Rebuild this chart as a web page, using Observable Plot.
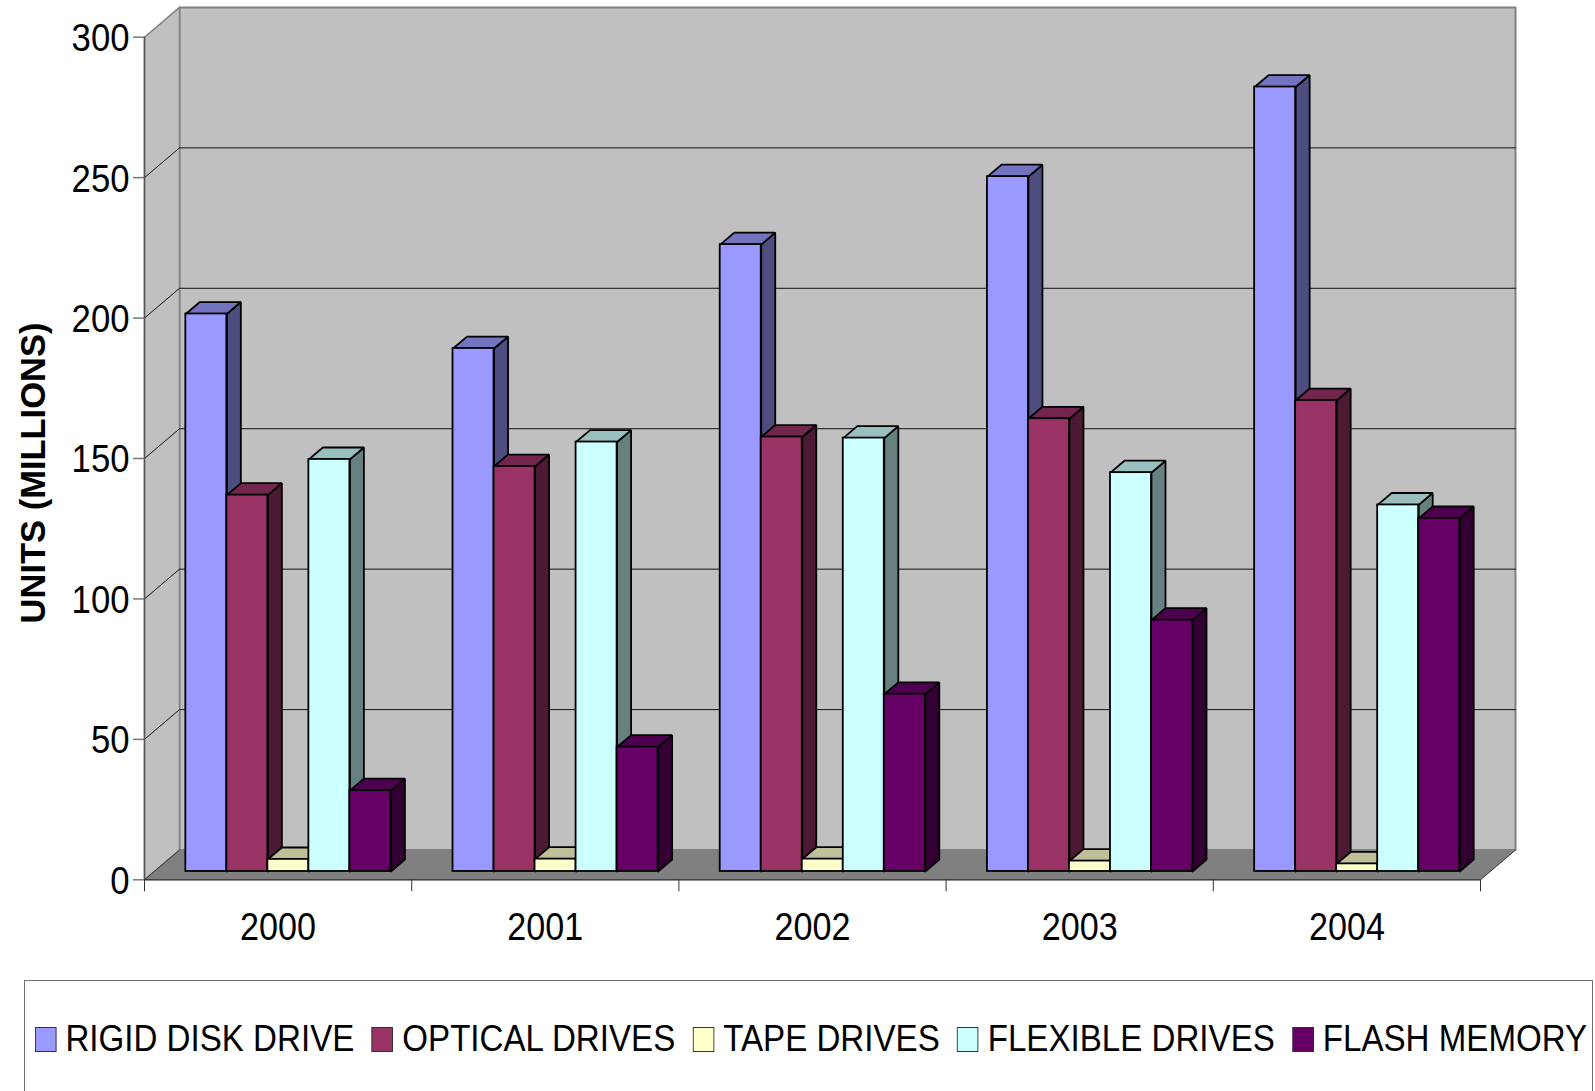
<!DOCTYPE html>
<html>
<head>
<meta charset="utf-8">
<script src="https://cdn.jsdelivr.net/npm/d3@7"></script>
<script src="https://cdn.jsdelivr.net/npm/@observablehq/plot@0.6"></script>
<style>
  html, body { margin: 0; padding: 0; background: #fff; overflow: hidden; }
  body { font-family: "Liberation Sans", Arial, sans-serif; color: #000; }
  svg { display: block; }
  #legend {
    box-sizing: border-box; margin-left: 24px; width: 1569px; height: 111px;
    border: 1.5px solid #707070; border-bottom: none; position: relative;
  }
  #legend .row {
    position: absolute; left: 10px; top: 33px; display: flex; align-items: center;
    font-size: 37px; line-height: 50px; white-space: nowrap;
    transform: scaleX(0.895); transform-origin: left center;
  }
  #legend .swatch {
    width: 22px; height: 23px; border: 1.5px solid #333; margin-right: 10px; flex: none;
  }
  #legend .item { display: flex; align-items: center; margin-right: 19.6px; }
</style>
</head>
<body>
<div id="chart"></div>
<div id="legend"><div class="row"></div></div>
<script>
// Unit shipments per year, in millions
const years = ["2000", "2001", "2002", "2003", "2004"];
const seriesNames = ["RIGID DISK DRIVE", "OPTICAL DRIVES", "TAPE DRIVES", "FLEXIBLE DRIVES", "FLASH MEMORY"];
const seriesColors = ["#9999FF", "#993366", "#FFFFCC", "#CCFFFF", "#660066"];
const rigidDisk = [198.5, 186.2, 223.2, 247.4, 279.3];
const optical = [134, 144.2, 154.7, 161.2, 167.7];
const tape = [4.3, 4.4, 4.4, 3.7, 2.7];
const flexible = [146.7, 152.9, 154.3, 142, 130.5];
const flash = [28.8, 44.3, 63.1, 89.5, 125.7];
const seriesValues = [rigidDisk, optical, tape, flexible, flash];
const yTicks = [0, 50, 100, 150, 200, 250, 300];

// Oblique projection: depth 1 is the back wall, expressed in data units of x and y
const depthX = 0.131;
const depthY = 10.6;
const project = (x, y, depth) => ({x: x + depth * depthX, y: y + depth * depthY});
const polygon = (corners) => corners.map(([x, y, depth]) => project(x, y, depth));

const shade = (hex, f) => {
  const c = d3.rgb(hex);
  return d3.rgb(c.r * f, c.g * f, c.b * f).formatHex();
};

const barFrontDepth = 0.28;
const barBackDepth = 0.68;
const barWidth = 0.1535;
const groupInset = 0.118;

const wall = "#C0C0C0";
const floor = "#808080";
const edge = "#808080";
const top3d = yTicks[yTicks.length - 1];

// Walls and floor
const walls = [
  Plot.line(polygon([[0, 0, 1], [5, 0, 1], [5, top3d, 1], [0, top3d, 1], [0, 0, 1]]), {x: "x", y: "y", fill: wall, stroke: edge, strokeWidth: 2}),
  Plot.line(polygon([[0, 0, 0], [0, top3d, 0], [0, top3d, 1], [0, 0, 1], [0, 0, 0]]), {x: "x", y: "y", fill: wall, stroke: edge, strokeWidth: 1.5}),
  Plot.line(polygon([[0, 0, 0], [5, 0, 0], [5, 0, 1], [0, 0, 1], [0, 0, 0]]), {x: "x", y: "y", fill: floor, stroke: "none"})
];

// Gridlines run along the left wall and across the back wall
const grid = yTicks.filter((t) => t > 0 && t < top3d).map((t) =>
  Plot.line(polygon([[0, t, 0], [0, t, 1], [5, t, 1]]), {x: "x", y: "y", stroke: "#111", strokeWidth: 1})
);
const floorEdges = [
  Plot.line(polygon([[0, 0, 0], [0, 0, 1]]), {x: "x", y: "y", stroke: "#333", strokeWidth: 1}),
  Plot.line(polygon([[5, 0, 0], [5, 0, 1]]), {x: "x", y: "y", stroke: "#333", strokeWidth: 1})
];

// Bars are painted left to right so each one overlaps the side of its neighbour
const barMarks = [];
years.forEach((year, i) => {
  seriesValues.forEach((values, s) => {
    const v = values[i];
    const x1 = i + groupInset + s * barWidth;
    const x2 = x1 + barWidth;
    const color = seriesColors[s];
    const outline = {x: "x", y: "y", stroke: "#000", strokeWidth: 1.8, strokeLinejoin: "miter"};
    barMarks.push(
      Plot.line(polygon([[x2, 0, barFrontDepth], [x2, 0, barBackDepth], [x2, v, barBackDepth], [x2, v, barFrontDepth], [x2, 0, barFrontDepth]]),
        {...outline, fill: shade(color, 0.5)}),
      Plot.line(polygon([[x1, v, barFrontDepth], [x1, v, barBackDepth], [x2, v, barBackDepth], [x2, v, barFrontDepth], [x1, v, barFrontDepth]]),
        {...outline, fill: shade(color, 0.75)}),
      Plot.rect([{...project(x1, 0, barFrontDepth), x2: project(x2, 0, barFrontDepth).x, y2: project(x1, v, barFrontDepth).y}],
        {x1: "x", x2: "x2", y1: "y", y2: "y2", fill: color, stroke: "#000", strokeWidth: 1.8})
    );
  });
});

const plot = Plot.plot({
  width: 1595,
  height: 980,
  marginLeft: 144,
  marginRight: 115,
  marginTop: 36.7,
  marginBottom: 100.7,
  style: {background: "#fff", fontFamily: "'Liberation Sans', Arial, sans-serif", color: "#000", overflow: "visible"},
  x: {domain: [0, 5], axis: null},
  y: {domain: [0, top3d], axis: null},
  marks: [
    ...walls,
    ...grid,
    ...floorEdges,
    ...barMarks,
    Plot.ruleX([0], {y1: 0, y2: top3d, stroke: "#555", strokeWidth: 1.5}),
    Plot.ruleY([0], {x1: 0, x2: 5, stroke: "#222", strokeWidth: 1.2}),
    Plot.axisY({ticks: yTicks, tickSize: 11, tickPadding: 4, stroke: "#777", strokeWidth: 1.5, fontSize: 38, label: null}),
    Plot.axisX({ticks: d3.range(0, 6), tickSize: 12, tickFormat: () => "", stroke: "#333", label: null}),
    Plot.axisX({
      ticks: years.map((_, i) => i + 0.5),
      tickSize: 0,
      tickPadding: 33,
      tickFormat: (d) => years[Math.floor(d)],
      fontSize: 38,
      label: null
    })
  ]
});

// Axis figures are set slightly condensed
plot.querySelectorAll('[aria-label$="tick label"] text').forEach((t) => {
  const n = t.textContent.length;
  if (n) {
    t.setAttribute("textLength", n === 4 ? 76 : n * 19.3);
    t.setAttribute("lengthAdjust", "spacingAndGlyphs");
  }
});

// Value-axis figures sit a little below their ticks
plot.querySelectorAll('[aria-label="y-axis tick label"] text').forEach((t) => {
  t.setAttribute("transform", `${t.getAttribute("transform") || ""} translate(0,1.8)`);
});

// Rotated value-axis title, placed in the left margin
const title = document.createElementNS("http://www.w3.org/2000/svg", "text");
title.textContent = "UNITS (MILLIONS)";
title.setAttribute("transform", "translate(44.5,473) rotate(-90)");
title.setAttribute("text-anchor", "middle");
title.setAttribute("font-size", "34.5");
title.setAttribute("font-weight", "bold");
title.setAttribute("fill", "#000");
plot.appendChild(title);

document.getElementById("chart").appendChild(plot);

// Legend below the plot
const row = d3.select("#legend .row");
seriesNames.forEach((name, s) => {
  const item = row.append("div").attr("class", "item");
  item.append("div").attr("class", "swatch").style("background", seriesColors[s]);
  item.append("span").text(name);
});
</script>
</body>
</html>
